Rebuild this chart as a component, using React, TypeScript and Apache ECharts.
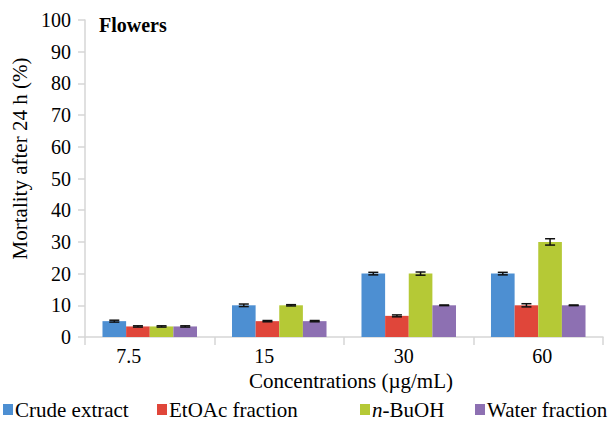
import React, { useEffect, useRef } from "react";
import * as echarts from "echarts";

const FONT = "Liberation Serif";

const concentrations = ["7.5", "15", "30", "60"];
const seriesNames = ["Crude extract", "EtOAc fraction", "n-BuOH", "Water fraction"];
const seriesColors = ["#4d8fd2", "#e0463a", "#b5c936", "#8d70b2"];

// Mortality (%) after 24 h per fraction, one value per concentration
const crudeExtract = [5, 10, 20, 20];
const etoacFraction = [3.33, 5, 6.67, 10];
const nBuOH = [3.33, 10, 20, 30];
const waterFraction = [3.33, 5, 10, 10];

// Standard error per bar
const crudeErr = [0.3, 0.4, 0.4, 0.4];
const etoacErr = [0.2, 0.2, 0.3, 0.5];
const nBuOHErr = [0.2, 0.2, 0.5, 1.0];
const waterErr = [0.2, 0.2, 0.1, 0.1];

const yTicks = { min: 0, max: 100, interval: 10 };

const values = [crudeExtract, etoacFraction, nBuOH, waterFraction];
const errors = [crudeErr, etoacErr, nBuOHErr, waterErr];

const CATEGORY_GAP = 0.27;
const INK = "#000";

export default function App() {
  const ref = useRef<HTMLDivElement>(null);

  useEffect(() => {
    if (!ref.current) return;
    const chart = echarts.init(ref.current, null, { renderer: "svg" });

    const barSeries = seriesNames.map((name, s) => ({
      name,
      type: "bar",
      data: values[s],
      barGap: "0%",
      barCategoryGap: `${CATEGORY_GAP * 100}%`,
      itemStyle: { color: seriesColors[s] },
      z: 2,
    }));

    // Error bars drawn over the matching bar of each group
    const errorSeries = seriesNames.map((name, s) => ({
      name: name + " error",
      type: "custom",
      z: 5,
      encode: { x: 0, y: [1, 2] },
      data: values[s].map((v, i) => [i, v - errors[s][i], v + errors[s][i]]),
      renderItem: (params: any, api: any) => {
        const band = api.size([1, 0])[0];
        const barW = (band * (1 - CATEGORY_GAP)) / seriesNames.length;
        const cx = api.coord([api.value(0), 0])[0] + (s - (seriesNames.length - 1) / 2) * barW;
        const yLo = api.coord([api.value(0), api.value(1)])[1];
        const yHi = api.coord([api.value(0), api.value(2)])[1];
        const cap = 5;
        const style = { stroke: "#111", lineWidth: 1.5 };
        return {
          type: "group",
          children: [
            { type: "line", shape: { x1: cx, y1: yLo, x2: cx, y2: yHi }, style },
            { type: "line", shape: { x1: cx - cap, y1: yHi, x2: cx + cap, y2: yHi }, style },
            { type: "line", shape: { x1: cx - cap, y1: yLo, x2: cx + cap, y2: yLo }, style },
          ],
        };
      },
    }));

    const legendLefts = [3, 157, 360, 475];
    const legends = seriesNames.map((name, s) => ({
      data: [name],
      left: legendLefts[s],
      top: 399,
      padding: 0,
      icon: "rect",
      itemWidth: 10,
      itemHeight: 11,
      selectedMode: false,
      formatter: (n: string) => (n === "n-BuOH" ? "{i|n}{t|-BuOH}" : "{t|" + n + "}"),
      textStyle: {
        fontFamily: FONT,
        fontSize: 21,
        color: INK,
        padding: [0, 0, 0, -3],
        rich: {
          i: { fontFamily: FONT, fontSize: 21, fontStyle: "italic", color: INK },
          t: { fontFamily: FONT, fontSize: 21, color: INK },
        },
      },
    }));

    const labelShift: Record<string, number[]> = {
      l0: [0, 42, 0, 0],
      l1: [0, 30, 0, 0],
      l2: [0, 10, 0, 0],
      l3: [0, 0, 0, 8],
    };
    const xRich: Record<string, any> = {};
    Object.keys(labelShift).forEach((k) => {
      xRich[k] = { fontFamily: FONT, fontSize: 20, color: INK, padding: labelShift[k] };
    });

    const axisGray = "#d6d6d6";

    chart.setOption({
      animation: false,
      backgroundColor: "#ffffff",
      textStyle: { fontFamily: FONT, color: INK },
      title: {
        text: "Flowers",
        left: 99,
        top: 15,
        padding: 0,
        textStyle: { fontFamily: FONT, fontSize: 20, fontWeight: "bold", color: INK },
      },
      legend: legends,
      grid: { left: 85, right: 10, top: 20, bottom: 85, containLabel: false },
      xAxis: {
        type: "category",
        data: concentrations,
        name: "Concentrations (µg/mL)",
        nameLocation: "middle",
        nameGap: 33,
        nameTextStyle: { fontFamily: FONT, fontSize: 21, color: INK, padding: [0, 0, 0, 14] },
        axisLine: { lineStyle: { color: axisGray, width: 1.5 } },
        axisTick: { show: true, length: 8, lineStyle: { color: axisGray, width: 1.5 } },
        axisLabel: {
          margin: 9,
          formatter: (v: string, i: number) => `{l${i}|${v}}`,
          rich: xRich,
          fontFamily: FONT,
          fontSize: 20,
          color: INK,
        },
      },
      yAxis: {
        type: "value",
        min: yTicks.min,
        max: yTicks.max,
        interval: yTicks.interval,
        name: "Mortality after 24 h (%)",
        nameLocation: "middle",
        nameGap: 52,
        nameTextStyle: { fontFamily: FONT, fontSize: 21, color: INK, padding: [0, 0, 0, 40] },
        axisLine: { show: true, lineStyle: { color: axisGray, width: 1.5 } },
        axisTick: { show: true, length: 7, lineStyle: { color: axisGray, width: 1.5 } },
        splitLine: { show: false },
        axisLabel: { margin: 14, fontFamily: FONT, fontSize: 20, color: INK },
      },
      series: [...barSeries, ...errorSeries],
    });

    return () => chart.dispose();
  }, []);

  return (
    <div
      ref={ref}
      style={{ position: "fixed", left: 0, top: 0, width: 613, height: 422, background: "#fff" }}
    />
  );
}
